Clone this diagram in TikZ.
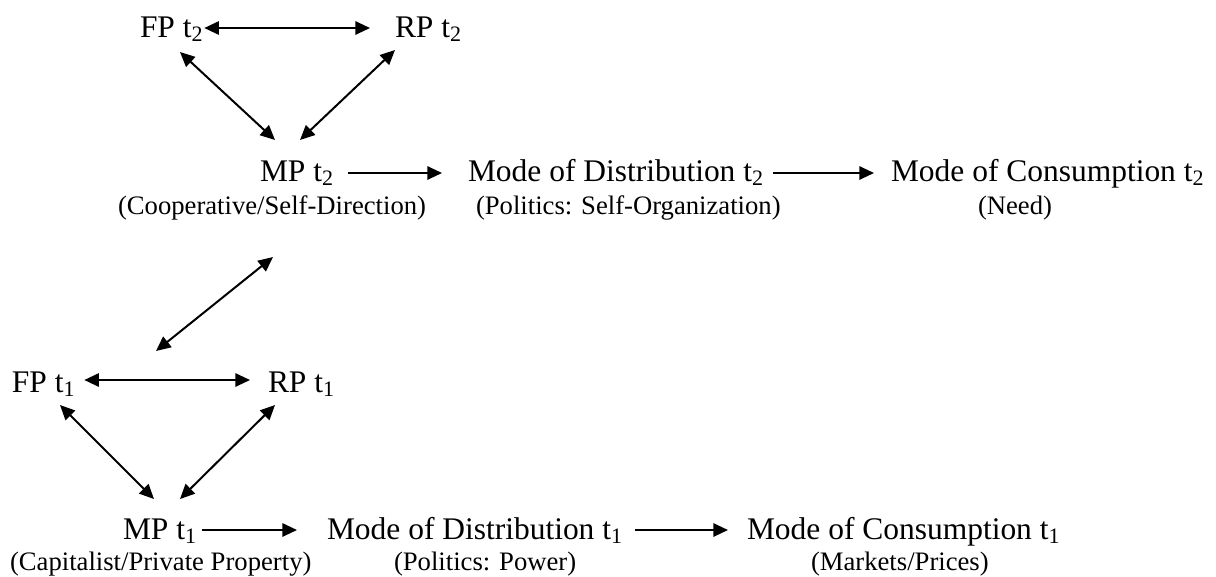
\documentclass[tikz,border=0pt]{standalone}
\usepackage{fontspec}
\setmainfont{Liberation Serif}
\usetikzlibrary{arrows.meta,calc}
\begin{document}
\begin{tikzpicture}[x=0.75pt,y=-0.75pt,
  mainlbl/.style={anchor=base west,inner sep=0pt,outer sep=0pt,font=\fontsize{23.6pt}{28pt}\selectfont},
  sublbl/.style={anchor=base west,inner sep=0pt,outer sep=0pt,font=\fontsize{20pt}{24pt}\selectfont},
  conn/.style={line width=1.5pt,-{Triangle[length=11pt,width=10pt]}},
  dconn/.style={line width=1.5pt,{Triangle[length=11pt,width=10pt]}-{Triangle[length=11pt,width=10pt]}}]
\useasboundingbox (0,0) rectangle (1216,576);
% upper level (t2)
\node[mainlbl] (fp2) at (140,37) {FP t\textsubscript{2}};
\node[mainlbl] (rp2) at (395,37) {RP t\textsubscript{2}};
\node[mainlbl] (mp2) at (260,181) {MP t\textsubscript{2}};
\node[mainlbl] (md2) at (468,181) {Mode of Distribution t\textsubscript{2}};
\node[mainlbl] (mc2) at (891,181) {Mode of Consumption t\textsubscript{2}};
\node[sublbl] (mp2s) at (118,214) {(Cooperative/Self-Direction)};
\node[sublbl] (md2s) at (476,214) {(Politics: Self-Organization)};
\node[sublbl] (mc2s) at (978,214) {(Need)};
% lower level (t1)
\node[mainlbl] (fp1) at (12,392) {FP t\textsubscript{1}};
\node[mainlbl] (rp1) at (268,392) {RP t\textsubscript{1}};
\node[mainlbl] (mp1) at (123,539) {MP t\textsubscript{1}};
\node[mainlbl] (md1) at (327,539) {Mode of Distribution t\textsubscript{1}};
\node[mainlbl] (mc1) at (747,539) {Mode of Consumption t\textsubscript{1}};
\node[sublbl] (mp1s) at (10,570) {(Capitalist/Private Property)};
\node[sublbl] (md1s) at (394,570) {(Politics: Power)};
\node[sublbl] (mc1s) at (811,570) {(Markets/Prices)};
% connectors t2
\draw[dconn] ($(fp2.base east)+(1,-9)$) -- ($(rp2.base west)+(-25,-9)$);
\draw[dconn] ($(fp2.base west)+(40,15)$) -- ($(mp2.base west)+(15,-41)$);
\draw[dconn] ($(rp2.base west)+(0,13)$) -- ($(mp2.base west)+(40,-41)$);
\draw[conn] ($(mp2.base east)+(14,-8)$) -- ($(md2.base west)+(-26,-8)$);
\draw[conn] ($(md2.base east)+(9,-8)$) -- ($(mc2.base west)+(-17,-8)$);
% link between levels
\draw[dconn] ($(mp2.base west)+(13,76)$) -- ($(fp1.base west)+(144,-41)$);
% connectors t1
\draw[dconn] ($(fp1.base east)+(9,-12)$) -- ($(rp1.base west)+(-18,-12)$);
\draw[dconn] ($(fp1.base west)+(48,13)$) -- ($(mp1.base west)+(31,-40)$);
\draw[dconn] ($(rp1.base west)+(7,13)$) -- ($(mp1.base west)+(57,-40)$);
\draw[conn] ($(mp1.base east)+(5,-9)$) -- ($(md1.base west)+(-30,-9)$);
\draw[conn] ($(md1.base east)+(12,-9)$) -- ($(mc1.base west)+(-19,-9)$);
\end{tikzpicture}
\end{document}
